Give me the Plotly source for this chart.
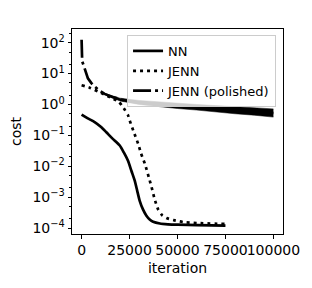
import plotly.graph_objects as go

# --- data ---
nn_iter = [0, 3000, 6800, 10000, 12900, 16000, 19900, 22000, 24200, 26000, 27700,
           29000, 30300, 32000, 33800, 35500, 37300, 40800, 45000, 50000, 60000, 75000]
nn_cost = [0.47, 0.36, 0.27, 0.19, 0.126, 0.08, 0.047, 0.028, 0.015, 0.007, 0.0034,
           0.0016, 7.6e-4, 4e-4, 2.5e-4, 1.9e-4, 1.6e-4, 1.4e-4, 1.32e-4, 1.28e-4, 1.24e-4, 1.2e-4]

jenn_iter = [0, 4200, 10000, 15000, 19500, 22000, 24200, 25100, 27000, 29500, 31000,
             33000, 35000, 36500, 38000, 39900, 42000, 44300, 48000, 53000, 60000, 75000]
jenn_cost = [4.2, 3.5, 2.4, 1.7, 1.2, 0.75, 0.45, 0.3, 0.14, 0.053, 0.026,
             0.012, 0.0045, 0.0021, 0.0009, 0.0004, 0.00026, 0.00021, 0.00018, 0.000156, 0.000145, 0.000135]

pol_iter = [0, 300, 1000, 1600, 2400, 3300, 5000, 6800, 9400, 12000, 16000, 21400,
            30000, 40000, 50000, 56500, 65000, 75000, 85000, 100000]
pol_cost = [125, 25, 19, 15, 10, 7, 5, 3.8, 2.8, 2.2, 1.75, 1.4,
            1.15, 1.0, 0.9, 0.85, 0.76, 0.68, 0.61, 0.53]

# noisy envelope of the polished run
band_iter = [12000, 20000, 30000, 40000, 50000, 60000, 70000, 80000, 90000, 100000]
band_upper = [2.3, 1.6, 1.35, 1.2, 1.1, 1.0, 0.92, 0.85, 0.8, 0.72]
band_lower = [2.1, 1.3, 1.0, 0.85, 0.74, 0.66, 0.57, 0.5, 0.45, 0.39]

x_ticks = [0, 25000, 50000, 75000, 100000]
x_labels = ["0", "25000", "50000", "75000", "100000"]
y_ticks = [1e-4, 1e-3, 1e-2, 1e-1, 1, 10, 100]
y_labels = ["10<sup>−4</sup>", "10<sup>−3</sup>", "10<sup>−2</sup>", "10<sup>−1</sup>",
            "10<sup>0</sup>", "10<sup>1</sup>", "10<sup>2</sup>"]

LW = 2.7
fig = go.Figure()
fig.add_trace(go.Scatter(x=nn_iter, y=nn_cost, mode="lines", name="NN",
                         line=dict(color="black", width=LW, shape="spline", smoothing=0.6)))
fig.add_trace(go.Scatter(x=jenn_iter, y=jenn_cost, mode="lines", name="JENN",
                         line=dict(color="black", width=LW, dash="3px,4px", shape="spline", smoothing=0.6)))
fig.add_trace(go.Scatter(x=band_iter, y=band_lower, mode="lines", showlegend=False,
                         line=dict(color="black", width=0.5), hoverinfo="skip"))
fig.add_trace(go.Scatter(x=band_iter, y=band_upper, mode="lines", showlegend=False,
                         fill="tonexty", fillcolor="black",
                         line=dict(color="black", width=0.5), hoverinfo="skip"))
fig.add_trace(go.Scatter(x=pol_iter, y=pol_cost, mode="lines", name="JENN (polished)",
                         line=dict(color="black", width=LW, dash="18px,4px,3px,4px")))

font = dict(family="DejaVu Sans", size=14, color="black")
# the page body adds an 8 px offset, so the figure is 8 px smaller on each side
fig.update_layout(
    width=304, height=280,
    margin=dict(l=64, r=29, t=21, b=54),
    paper_bgcolor="white", plot_bgcolor="white",
    font=font,
    showlegend=True,
    legend=dict(x=0.967, y=0.971, xanchor="right", yanchor="top", traceorder="normal",
                bgcolor="rgba(255,255,255,0.8)", bordercolor="#cccccc", borderwidth=1,
                font=dict(family="DejaVu Sans", size=13, color="black"), tracegroupgap=0),
    xaxis=dict(range=[-5000, 105000], tickvals=x_ticks, ticktext=x_labels, tickangle=0,
               automargin=False,
               showgrid=False, zeroline=False, showline=True, mirror=True,
               linecolor="black", linewidth=1, ticks="outside", ticklen=3.5,
               tickwidth=1, tickcolor="black",
               title=dict(text="iteration", standoff=5, font=font)),
    yaxis=dict(type="log", range=[-4.194, 2.444], tickvals=y_ticks, ticktext=y_labels,
               automargin=False,
               showgrid=False, zeroline=False, showline=True, mirror=True,
               linecolor="black", linewidth=1, ticks="outside", ticklen=3.5,
               tickwidth=1, tickcolor="black",
               minor=dict(ticks="outside", ticklen=2, tickcolor="black", tickwidth=0.6,
                          showgrid=False),
               title=dict(text="cost", standoff=9, font=font)),
)
fig.write_html("out.html")
